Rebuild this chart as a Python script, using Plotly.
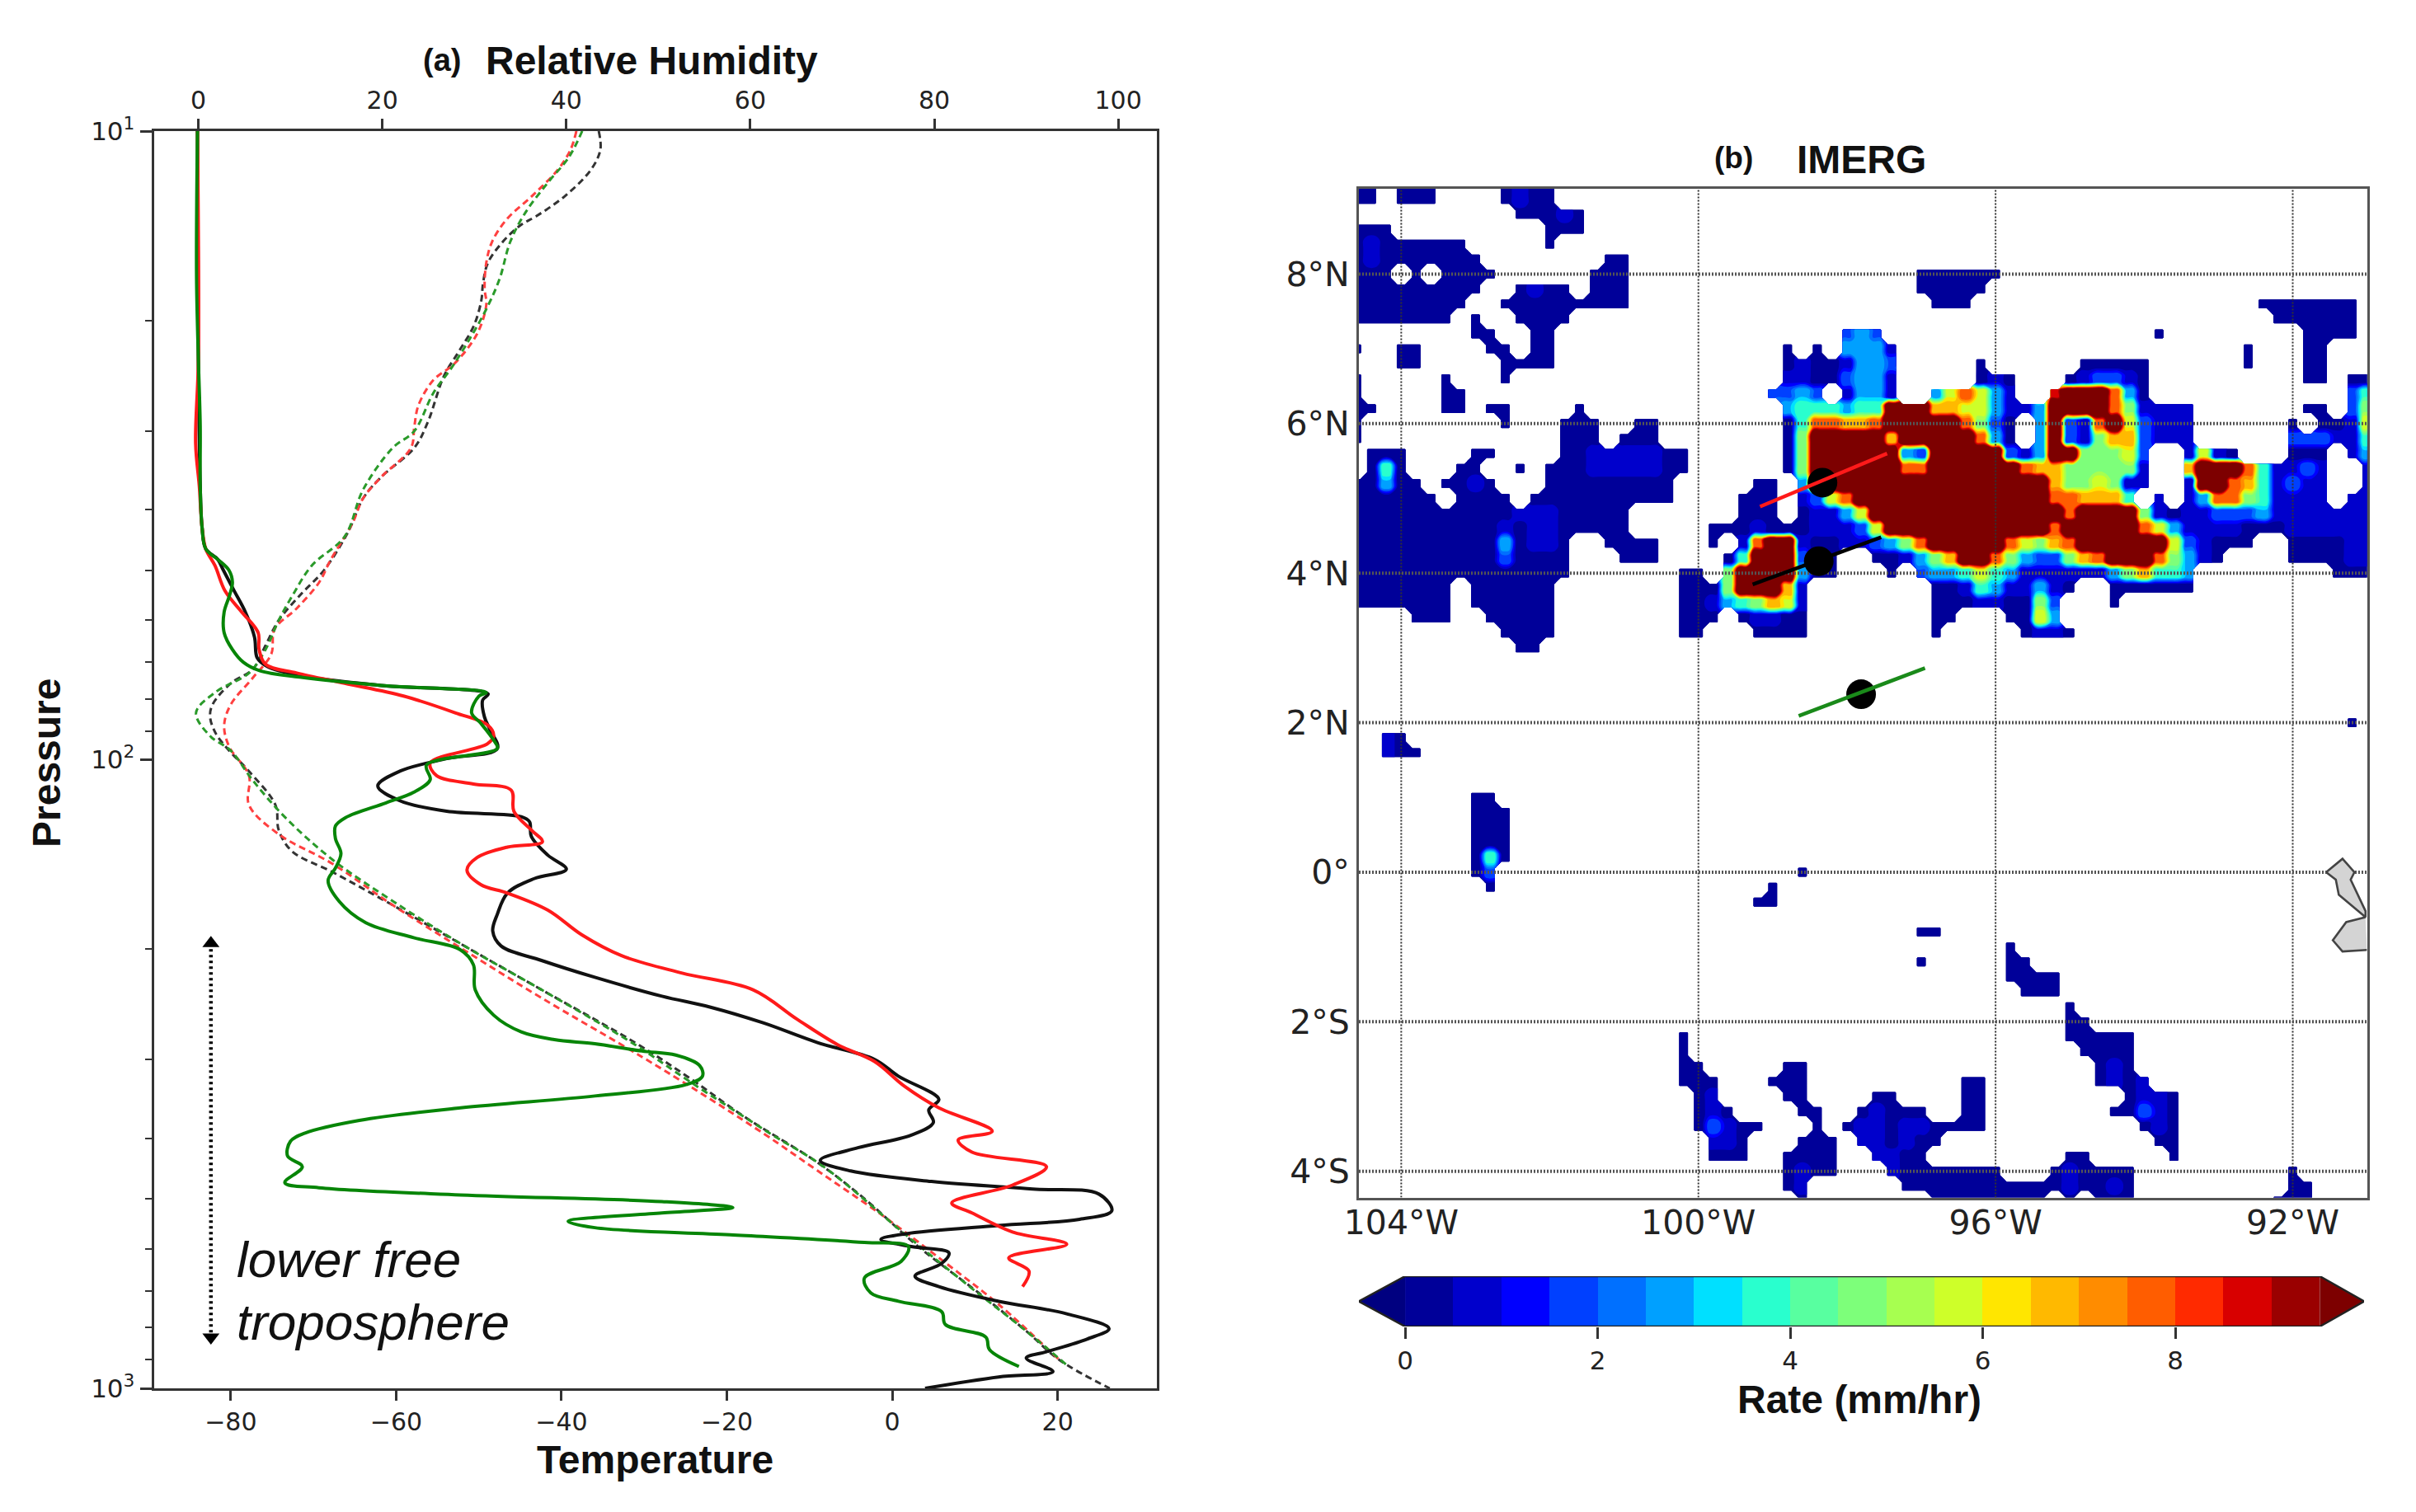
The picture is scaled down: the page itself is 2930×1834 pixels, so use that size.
import plotly.graph_objects as go

W, H = 2930, 1834

# ---------- panel (a): pressure (hPa) with relative humidity (%) ----------
black_rh_p = [10, 23.1, 36.7, 42.7, 46.2, 48, 49.9, 53.9, 58.2, 63.8, 68.9, 71.1, 73.3, 76.2, 78.6, 80.4, 85.5, 89.6,
              96, 99.6, 104.3, 110.1, 116.2, 120.8, 123.2, 125.5, 132.5, 141.9, 149.4, 154.6, 163, 176.1, 187.3, 197.8,
              208.6, 221.9, 237.8, 247.4, 262.2, 281.8, 299.7, 318.7, 347, 360.6, 377.7, 395.5, 414.3, 433.9, 451,
              468.7, 481.9, 490.9, 521.9, 538.3, 550.8, 568, 579.6, 595, 609, 632.9, 663, 688.9, 727, 761, 803.5, 835,
              874.6, 895, 940.2, 959.2, 1000]
black_rh = [-0.1, 0, 0.2, 0.4, 0.8, 2.1, 2.7, 3.9, 5.1, 6.1, 6.4, 7.5, 10.7, 19.9, 31.5, 30.9, 31.1, 31.7,
            32.5, 27, 21.9, 19.5, 21.9, 27, 35.1, 36, 36.2, 38, 40, 36.5, 33.6, 32.5, 32, 32.9,
            37.3, 43.1, 50.4, 55.6, 61.4, 67.3, 73.5, 76.1, 80.5, 79.4, 79.9, 77.5, 71.7, 67.6, 70.9,
            79.7, 90.7, 97.9, 99.3, 95.8, 87, 76.8, 74.2, 77.5, 81.6, 80.8, 77.9, 80.5, 87, 94.4, 99, 96.6,
            92.2, 90, 92.9, 87, 79]

red_rh_p = [10, 23.1, 31.4, 36.7, 42.7, 46.2, 49.1, 53.9, 58.2, 62.8, 66.8, 70.5, 72.8, 75.6, 79.2, 84.2, 88.2, 91.7,
            94.4, 101.2, 106, 109.3, 111.8, 120.8, 129.4, 135.1, 137.7, 143.1, 149.8, 158, 163, 173.5, 190, 205, 218.5,
            232.3, 258.8, 284, 302, 331, 358, 390, 402.6, 421, 444, 475, 507, 526, 564, 590, 620, 651, 689]
red_rh = [-0.1, 0, -0.3, 0.1, 0.4, 0.8, 1.8, 2.9, 4.7, 6.5, 6.6, 7.3, 10.7, 15.9, 22.3, 27.9, 31.5, 32.1,
          31.4, 25.2, 25.9, 29.9, 34, 34.3, 36.2, 37.4, 33.6, 30.3, 29.2, 30.7, 33.6, 38, 41.7, 46, 52.6,
          60.3, 65.1, 69.5, 73.5, 76.8, 80.5, 86.3, 82.6, 84.1, 92.2, 88.5, 81.9, 84.1, 88.5, 94.4, 88.1, 90.3, 89.6]

green_rh_p = [10, 17, 23.1, 29.5, 36.7, 42.7, 46.2, 48, 49.9, 52.2, 54.7, 58.2, 62.8, 66.8, 70, 72.2, 73.9, 76.2, 78.2,
              79.2, 84.2, 87.5, 93.1, 96, 102, 107.6, 112.7, 117.1, 123.6, 127.5, 133.5, 141, 148.7, 155.7, 168, 181.7,
              191.9, 200.7, 211.9, 232.4, 254.9, 271, 278.8, 283, 290.7, 295, 306.7, 318.7, 328.8, 342.7, 357.9, 374.8,
              392.6, 404.8, 427.2, 444, 470.8, 479.6, 492.4, 504.6, 515.6, 526, 542.5, 555.2, 569.9, 586, 595, 628,
              667.9, 704.9, 727, 755.2, 791.3, 828.8, 867.7, 923]
green_rh = [-0.1, -0.2, 0, 0.2, 0.2, 0.4, 0.8, 2.1, 3.3, 3.7, 3.4, 2.8, 2.8, 3.7, 4.9, 6.7, 11, 19.9, 31.3,
            30.5, 29.7, 30.7, 32.1, 32.5, 24.8, 25.2, 23.4, 20.4, 16, 14.9, 14.9, 15.5, 14.9, 14.1, 15.3, 18.2,
            23.4, 28.5, 29.9, 30.1, 32.1, 35.1, 38.7, 43.1, 48.2, 51.9, 54.5, 54.8, 53, 43.1, 28.5, 17.5,
            11.6, 10, 9.7, 11.3, 9.4, 13.1, 28.5, 50.4, 58.1, 50.4, 40.2, 43.1, 57.8, 72.4, 77.2, 76.4,
            72.4, 73.1, 76.1, 80.8, 81.2, 85.6, 86, 89.2]

# ---------- panel (a): pressure (hPa) with temperature (deg C) ----------
black_t_p = [10, 10.7, 11.5, 12.66, 13.67, 14.1, 15, 16.2, 17.5, 18.6, 20.4, 22.4, 24.5, 29.1, 31.9, 35.5, 38.4, 43.4,
             49.9, 54.7, 60, 65.8, 71.7, 75.6, 81.7, 85.5, 90.9, 96.7, 104.3, 118, 129.4, 139.8, 150.9, 170.7, 199,
             232.3, 281.9, 321, 368.9, 436.8, 498.8, 594.3, 704, 808.6, 901, 1000]
black_t = [-35.5, -35.3, -36.4, -39.5, -43.1, -44.9, -47.1, -48.9, -49.5, -49.7, -50.6, -52.4, -54.2, -56.2, -57.8,
           -61.8, -64, -65.8, -68.7, -71.6, -74.2, -75.8, -77.3, -80, -82.2, -82.5, -81.8, -80.2, -77.8, -74.6, -74.2,
           -72.6, -67.7, -60.3, -51.4, -42.4, -31.1, -24.5, -18, -9.1, -3.4, 3.1, 10.4, 16.1, 20.2, 26.3]

red_t_p = [10, 10.7, 11.5, 12.66, 13.8, 15, 16.2, 17.8, 18.9, 21, 23.4, 24.9, 27.3, 29.5, 31.9, 35.5, 38.4, 42.1, 48.3,
           52.2, 57.4, 62, 67.9, 74, 81.7, 88.2, 95.3, 106, 118, 131.4, 146.4, 170.7, 202.3, 239.4, 288.4, 325, 393,
           450, 533, 631, 736, 901]
red_t = [-38.2, -38.9, -40.4, -43.5, -46.6, -48.4, -49.1, -49.3, -49.1, -50.2, -52.9, -55.5, -57.3, -57.8, -58.2,
         -61.8, -64, -65.3, -68, -69.3, -72, -74.7, -75.1, -77.3, -80, -80.8, -80.2, -77.8, -77.8, -74.2, -67.7, -60.3,
         -51.4, -42.4, -31.9, -25.4, -15.6, -9.1, -1, 6.4, 12.9, 20.2]

green_t_p = [10, 11, 12.1, 13.5, 15, 17.2, 19.2, 21.4, 23.8, 26.1, 30, 31.9, 37.2, 44.1, 49.1, 54.7, 60, 66.8, 72.8, 78,
             84.2, 91.7, 96.7, 107.6, 123.6, 144.2, 168.2, 199, 232.3, 284, 325, 393, 444, 568, 693, 808.6, 916]
green_t = [-37.5, -39.1, -41.7, -44.4, -46.2, -47.5, -49.1, -51.1, -53.3, -55.5, -57.8, -60.4, -64, -66.2, -70.2,
           -72.5, -74.2, -75.8, -77.8, -81.8, -84.2, -82.5, -80, -77.4, -73.4, -67.7, -60.3, -51.4, -42.4, -31.1,
           -24.5, -14.8, -8.3, 1.5, 9.6, 16.1, 21]

arrow_t = [-82.4, -82.4]
arrow_p = [196, 829]

temp_ticks = [-80, -60, -40, -20, 0, 20]
rh_ticks = [0, 20, 40, 60, 80, 100]
pressure_ticks = [10, 100, 1000]
pressure_tick_text = ["10<sup>1</sup>", "10<sup>2</sup>", "10<sup>3</sup>"]
pressure_minor = [20, 30, 40, 50, 60, 70, 80, 90, 200, 300, 400, 500, 600, 700, 800, 900]

# ---------- panel (b): rain rate, one string per latitude, 0.2 degree cells ----------
# '.' = no rain, digits = mm/hr, X = above the scale
rain_lon_start = -104.6
rain_lon_step = 0.2
rain_rows = {
    9.2: "00.00 0.0.. 0100.",
    9.0: "00.00 0.... 0100.",
    8.8: "..... ..... .0001 0....",
    8.6: "000.. ..... ...00 0....",
    8.4: "01000 000.. ...0.",
    8.2: "01000 0000. ..... ..00.",
    8.0: "000.0 .0000 ..... .000. ..... ..... ..... ...00 0000.",
    7.8: "00000 0000. .0100 .000. ..... ..... ..... ...00 000..",
    7.6: "00000 000.. 00000 0000. ..... ..... ..... ....0 00... ..... ..... ..... .0000 000.",
    7.4: "00000 00.0. .0000 ..... ..... ..... ..... ..... ..... ..... ..... ..... ..000 000.",
    7.2: "..... ...00 ..00. ..... ..... ..... ...23 2.... ..... ..... ....0 ..... ....0 000.",
    7.0: "0..00 ....0 0.00. ..... ..... ....0 .0.33 31... ..... ..... ..... ..... 0...0 0...",
    6.8: "...00 ..... 0000. ..... ..... ....0 10013 32... ..0.. ....0 0000. ..... 0...0 0...",
    6.6: "0.... .0... 0.... ..... ..... ....1 10023 31... ..010 ...01 2210. ..... ....0 0.00",
    6.4: "0.... .00.. ..... ..... ..... ...22 32.13 31..3 68631 ..9XX X830. ..... ..... ..24",
    6.2: "00... .00.0 0.... 0.... ..... ....3 44434 4XXX7 76631 13XXX X8511 11... ....0 0.25",
    6.0: "0.... ..... 0...0 00..0 0.... ....0 48877 8XXXX X8520 .3X21 8X621 11... ...0. 0016",
    5.8: "0.... ..... ....0 00.00 0.... ....0 5XXXX X7XXX XX830 .3X21 57721 11... ...22 2114",
    5.6: ".000. ...00 ....0 01111 100.. ....0 5XXXX XX32X XXXX2 13XX5 5562. .1610 ...00 0.13",
    5.4: ".040. ..00. .0.00 01111 100.. ....0 5XXXX XX88X XXXXX 87755 5551. .7XXX 84112 1..1",
    5.2: "00300 .0010 ...00 00000 00... ..00. 3XXXX XXXXX XXXXX XX755 6511. .1XX8 74121 1..1",
    5.0: "00000 0.000 0.000 00000 00... .000. 1268X XXXXX XXXXX XX887 774.1 .1388 54111 1.11",
    4.8: "00000 00000 01110 0000. ..... .000. 01136 XXXXX XXXXX XXX8X XXX51 01122 23111 1111",
    4.6: "00000 00000 10110 0000. ....0 00100 01112 6XXXX XXXXX XX8XX XXX86 31111 00011 1111",
    4.4: "00000 00000 30110 ..000 0...0 .18XX 10011 2358X XXXX8 6578X XXXXX 62100 0..00 0011",
    4.2: "00000 00000 20000 ...00 0.... 04XXX 200.. 00135 7XX85 32257 8XXX8 5310. ...00 0011",
    4.0: "00000 00000 00000 ..... ..00. 5XXXX 300.. .0.23 34643 11111 13574 43... ..... .000",
    3.8: "00000 00.00 0000. ..... ..000 5XXX7 1.... ....0 01431 1310. .0000 00...",
    3.6: "00000 00.00 0000. ..... ..001 34576 1.... ....0 00110 052.. .0...",
    3.4: "....0 00..0 0000. ..... ..000 .0110 0.... ....0 0...0 063..",
    3.2: "..... ..... 0000. ..... ..00. ..000 0.... ....0 ..... 0110.",
    3.0: "..... ..... .00..",
    2.8: "",
    2.6: "",
    2.4: "",
    2.2: "",
    2.0: "..... ..... ..... ..... ..... ..... ..... ..... ..... ..... ..... ..... ..... ..0.",
    1.8: "..10.",
    1.6: "..100",
    1.4: "",
    1.2: "",
    1.0: "..... ...00",
    0.8: "..... ...00 0....",
    0.6: "..... ...00 0....",
    0.4: "..... ...00 0....",
    0.2: "..... ...04 0....",
    0.0: "..... ...02 ..... ..... ..... ..... 0....",
    -0.2: "..... ....0 ..... ..... ..... ...0.",
    -0.4: "..... ..... ..... ..... ..... ..00.",
    -0.6: "",
    -0.8: "..... ..... ..... ..... ..... ..... ..... ...00",
    -1.0: "..... ..... ..... ..... ..... ..... ..... ..... ....0",
    -1.2: "..... ..... ..... ..... ..... ..... ..... ...0. ....0 0....",
    -1.4: "..... ..... ..... ..... ..... ..... ..... ..... ....0 000..",
    -1.6: "..... ..... ..... ..... ..... ..... ..... ..... ..... 000..",
    -1.8: "..... ..... ..... ..... ..... ..... ..... ..... ..... ...0.",
    -2.0: "..... ..... ..... ..... ..... ..... ..... ..... ..... ...00",
    -2.2: "..... ..... ..... ..... ..0.. ..... ..... ..... ..... ...00 000..",
    -2.4: "..... ..... ..... ..... ..0.. ..... ..... ..... ..... ....0 000..",
    -2.6: "..... ..... ..... ..... ..00. ....0 0.... ..... ..... ..... 010..",
    -2.8: "..... ..... ..... ..... ..000 ...00 0.... ..... .00.. ..... 0101.",
    -3.0: "..... ..... ..... ..... ...01 ....0 0.... 00... .00.. ..... ..011 0....",
    -3.2: "..... ..... ..... ..... ...01 0.... 00..0 1000. .00.. ..... .0021 0....",
    -3.4: "..... ..... ..... ..... ...02 100.. .0.01 10110 000.. ..... ...01 0....",
    -3.6: "..... ..... ..... ..... ....1 10... 000.1 10100 ..... ..... ....0 0....",
    -3.8: "..... ..... ..... ..... ....0 00..0 000.. 1100. ..... ...00 ..... 0....",
    -4.0: "..... ..... ..... ..... ..... ....0 100.. .1000 0000. ..010 000.. ..... ...0.",
    -4.2: "..... ..... ..... ..... ..... ....0 1.... ..000 00000 00010 010.. ..... ...00",
    -4.4: "..... ..... ..... ..... ..... ..... 0.... ....0 00000 00.0. 000.. ..... ..000",
}
cell_value = {"0": 0.25, "1": 0.9, "2": 2, "3": 3, "4": 4, "5": 5, "6": 6, "7": 7, "8": 8, "9": 9, "X": 12}

band_colors = ["#000099", "#0000cc", "#0000ff", "#0040ff", "#0070ff", "#00a0ff", "#00e0ff", "#29ffce", "#58ffa0",
               "#7dff7a", "#a7ff50", "#ceff29", "#ffe600", "#ffb900", "#ff8c00", "#ff5d00", "#ff2a00", "#d80000",
               "#9a0000"]
over_color = "#7d0000"
under_color = "#000080"
band_edges = [0, .5, 1, 1.5, 2, 2.5, 3, 3.5, 4, 4.5, 5, 5.5, 6, 6.5, 7, 7.5, 8, 8.5, 9, 9.5]
band_index = list(range(19))
cbar_ticks = [0, 2, 4, 6, 8]
cbar_tip_low = -0.48
cbar_tip_high = 9.96

grid_lons = [-104, -100, -96, -92]
grid_lon_text = ["104°W", "100°W", "96°W", "92°W"]
grid_lats = [-4, -2, 0, 2, 4, 6, 8]
grid_lat_text = ["4°S", "2°S", "0°", "2°N", "4°N", "6°N", "8°N"]

red_leg_lon, red_leg_lat = [-99.17, -97.46], [4.89, 5.60]
red_dot_lon, red_dot_lat = [-98.33], [5.21]
black_leg_lon, black_leg_lat = [-99.27, -97.54], [3.85, 4.48]
black_dot_lon, black_dot_lat = [-98.38], [4.16]
green_leg_lon, green_leg_lat = [-98.65, -96.95], [2.09, 2.73]
green_dot_lon, green_dot_lat = [-97.81], [2.38]

island_a_lon = [-91.55, -91.33, -91.17, -91.22, -91.02, -91.02, -91.38, -91.42, -91.55]
island_a_lat = [0.0, 0.18, 0.0, -0.1, -0.52, -0.6, -0.3, -0.1, 0.0]
island_b_lon = [-91.02, -91.28, -91.46, -91.33, -91.0]
island_b_lat = [-0.6, -0.667, -0.91, -1.06, -1.04]

# ---------- helpers ----------
def fx(px):
    return px / W

def fy(px):
    return 1 - px / H

# every read cell is drawn as a 2x2 block, so the no-rain edge falls on the cell edge
n_cols = 69
q = rain_lon_step / 4
lons, lats, z = [], [], []
for i in range(n_cols):
    centre = rain_lon_start + rain_lon_step * i
    lons += [centre - q, centre + q]
for lat, text in rain_rows.items():
    row = text.replace(" ", "").ljust(n_cols, ".")
    cells = []
    for ch in row:
        cells += [cell_value.get(ch), cell_value.get(ch)]
    lats += [lat + q, lat - q]
    z += [cells, cells]

BLACK, RED, GREEN = "#111111", "#ff1a1a", "#078507"
fig = go.Figure()

def line(xs, ys, color, width, dash, xa, ya, spline=True, name=None):
    fig.add_trace(go.Scatter(
        x=xs, y=ys, mode="lines", xaxis=xa, yaxis=ya, showlegend=False, name=name,
        line=dict(color=color, width=width, dash=dash,
                  shape="spline" if spline else "linear", smoothing=1.0)))

for xs, ys, c in [(black_t, black_t_p, "#333333"), (red_t, red_t_p, "#ff4040"), (green_t, green_t_p, "#2a9a2a")]:
    line(xs, ys, c, 3, "8px,5px", "x", "y")
for xs, ys, c in [(black_rh, black_rh_p, BLACK), (red_rh, red_rh_p, RED), (green_rh, green_rh_p, GREEN)]:
    line(xs, ys, c, 4, "solid", "x2", "y")

fig.add_trace(go.Scatter(x=arrow_t, y=arrow_p, mode="lines+markers", xaxis="x", yaxis="y", showlegend=False,
                         line=dict(color="#000", width=4.5, dash="3px,4px"),
                         marker=dict(symbol=["triangle-up", "triangle-down"], size=18, color="#000")))

# map
scale = [[i / 20, c] for i, c in enumerate([under_color] + band_colors + [over_color])]
fig.add_trace(go.Contour(
    x=lons, y=lats, z=z, xaxis="x3", yaxis="y3", showscale=False, connectgaps=False,
    autocontour=False, contours=dict(start=0, end=9.5, size=0.5, coloring="fill", showlines=False),
    line=dict(width=0), colorscale=scale, hoverinfo="skip"))

for lon in grid_lons:
    line([lon, lon], [-4.35, 9.14], "#333333", 2, "2px,2px", "x3", "y3", False)
for lat in grid_lats:
    line([-104.57, -91.0], [lat, lat], "#555555", 4, "2px,2px", "x3", "y3", False)

for xs, ys in [(island_a_lon, island_a_lat), (island_b_lon, island_b_lat)]:
    fig.add_trace(go.Scatter(x=xs, y=ys, mode="lines", fill="toself", fillcolor="#d4d4d4", xaxis="x3", yaxis="y3",
                             showlegend=False, line=dict(color="#444", width=2.6)))

for lx, ly, dx, dy, c in [(red_leg_lon, red_leg_lat, red_dot_lon, red_dot_lat, "#ff1a1a"),
                          (black_leg_lon, black_leg_lat, black_dot_lon, black_dot_lat, "#000000"),
                          (green_leg_lon, green_leg_lat, green_dot_lon, green_dot_lat, "#1a8a1a")]:
    fig.add_trace(go.Scatter(x=dx, y=dy, mode="markers", xaxis="x3", yaxis="y3", showlegend=False,
                             marker=dict(color="#000", size=36)))
    line(lx, ly, c, 4.5, "solid", "x3", "y3", False)

# colour bar
fig.add_trace(go.Heatmap(x=band_edges, y=[0, 1], z=[band_index], xaxis="x4", yaxis="y4", showscale=False,
                         zmin=-0.5, zmax=18.5, hoverinfo="skip",
                         colorscale=[v for i, c in enumerate(band_colors)
                                     for v in ([i / 19, c], [(i + 1) / 19, c])]))
fig.add_trace(go.Scatter(x=[cbar_tip_low, band_edges[0], band_edges[0], cbar_tip_low], y=[0.5, 1, 0, 0.5],
                         fill="toself", fillcolor=under_color, mode="none", xaxis="x4", yaxis="y4", showlegend=False))
fig.add_trace(go.Scatter(x=[cbar_tip_high, band_edges[-1], band_edges[-1], cbar_tip_high], y=[0.5, 1, 0, 0.5],
                         fill="toself", fillcolor=over_color, mode="none", xaxis="x4", yaxis="y4", showlegend=False))
fig.add_trace(go.Scatter(x=[cbar_tip_low, band_edges[0], band_edges[-1], cbar_tip_high, band_edges[-1], band_edges[0],
                            cbar_tip_low],
                         y=[0.5, 1, 1, 0.5, 0, 0, 0.5], mode="lines", xaxis="x4", yaxis="y4", showlegend=False,
                         line=dict(color="#222", width=2.5)))

TICK = dict(family="DejaVu Sans", size=30, color="#222")
MAPTICK = dict(family="DejaVu Sans", size=41, color="#222")
AX = dict(showgrid=False, zeroline=False, showline=True, linecolor="#333", linewidth=3, automargin=False)

fig.update_layout(
    width=W, height=H, margin=dict(l=0, r=0, t=0, b=0), paper_bgcolor="white", plot_bgcolor="white",
    showlegend=False,
    xaxis=dict(**AX, domain=[fx(186.6), fx(1403)], range=[-89.3, 32], anchor="y", side="bottom", mirror=False,
               tickmode="array", tickvals=temp_ticks, ticks="outside", ticklen=12, tickwidth=2.5, tickcolor="#333",
               tickfont=TICK),
    xaxis2=dict(**AX, domain=[fx(186.6), fx(1403)], range=[-4.84, 104.2], anchor="y", side="top", overlaying="x",
                tickmode="array", tickvals=rh_ticks, ticks="outside", ticklen=12, tickwidth=2.5, tickcolor="#333",
                tickfont=TICK),
    yaxis=dict(**AX, domain=[fy(1684), fy(159)], type="log", range=[3, 1], anchor="x", mirror=True,
               tickmode="array", tickvals=pressure_ticks, ticktext=pressure_tick_text, ticks="outside", ticklen=14,
               tickwidth=2.5, tickcolor="#333", tickfont=dict(family="DejaVu Sans", size=31, color="#222"),
               minor=dict(tickmode="array", tickvals=pressure_minor, ticks="outside", ticklen=8, tickwidth=2,
                          tickcolor="#333", showgrid=False)),
    xaxis3=dict(showgrid=False, zeroline=False, showline=True, linecolor="#555", linewidth=3, mirror=True,
                automargin=False, domain=[fx(1648), fx(2870.6)], range=[-104.57, -91.0], anchor="y3",
                tickmode="array", tickvals=grid_lons, ticktext=grid_lon_text, ticks="", tickfont=MAPTICK,
                ticklabelstandoff=-8),
    yaxis3=dict(showgrid=False, zeroline=False, showline=True, linecolor="#555", linewidth=3, mirror=True,
                automargin=False, domain=[fy(1452.5), fy(229)], range=[-4.35, 9.14], anchor="x3",
                tickmode="array", tickvals=grid_lats, ticktext=grid_lat_text, ticks="", tickfont=MAPTICK),
    xaxis4=dict(showgrid=False, zeroline=False, showline=False, automargin=False, domain=[fx(1648), fx(2867)],
                range=[cbar_tip_low, cbar_tip_high], anchor="y4", tickmode="array", tickvals=cbar_ticks,
                ticks="outside", ticklen=14, tickwidth=2.5, tickcolor="#333",
                tickfont=dict(family="DejaVu Sans", size=31, color="#222")),
    yaxis4=dict(showgrid=False, zeroline=False, showline=False, automargin=False, domain=[fy(1609), fy(1548)],
                range=[0, 1], anchor="x4", showticklabels=False, ticks=""),
)

BOLD = "Liberation Sans"
def note(text, x, y, size, angle=0, italic=False, color="#111"):
    fig.add_annotation(text=text, xref="paper", yref="paper", x=fx(x), y=fy(y), showarrow=False, textangle=angle,
                       font=dict(family=BOLD, size=size, color=color, style="italic" if italic else "normal"),
                       xanchor="center", yanchor="middle")

note("<b>(a)</b>", 536, 73, 38)
note("<b>Relative Humidity</b>", 790, 73, 48)
note("<b>Temperature</b>", 794, 1770, 48)
note("<b>Pressure</b>", 56, 925, 48, angle=-90)
note("lower free", 423, 1527, 62, italic=True)
note("troposphere", 452, 1603, 62, italic=True)
note("<b>(b)</b>", 2102, 192, 37)
note("<b>IMERG</b>", 2257, 194, 48)
note("<b>Rate (mm/hr)</b>", 2255, 1697, 48)

fig.write_html("out.html", config=dict(displayModeBar=False), post_script="document.body.style.margin='0';")
